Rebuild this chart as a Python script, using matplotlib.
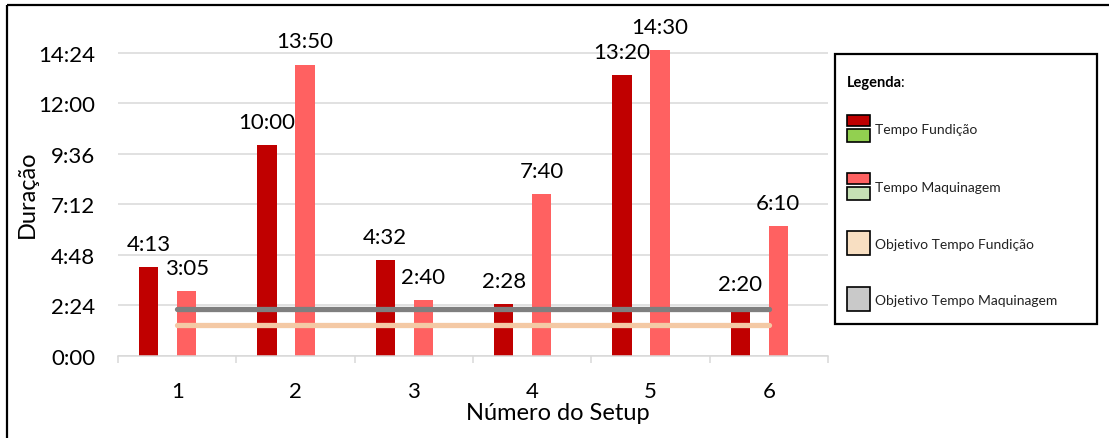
import matplotlib
matplotlib.use("Agg")
import matplotlib.pyplot as plt
from matplotlib.patches import Rectangle
import numpy as np

plt.rcParams['font.family'] = ['Lato', 'DejaVu Sans']

# durations in minutes per setup
setups = ["1", "2", "3", "4", "5", "6"]
tempo_fundicao = [253, 600, 272, 148, 800, 140]
tempo_maquinagem = [185, 830, 160, 460, 870, 370]
objetivo_fundicao = 87
objetivo_maquinagem = 134

yticks_min = [0, 144, 288, 432, 576, 720, 864]

legend_labels = ["Tempo Fundição", "Tempo Maquinagem",
                 "Objetivo Tempo Fundição", "Objetivo Tempo Maquinagem"]
legend_colors = [("#C00000", "#92D050"), ("#FF6161", "#C5E0B4"),
                 ("#F8DFC2",), ("#C9C9C9",)]


def hmm(m):
    return f"{int(m) // 60}:{int(m) % 60:02d}"


W, H = 1109, 439
fig = plt.figure(figsize=(W / 100, H / 100), dpi=100)

# main axes placed in pixel terms
left, right, bottom = 118, 828, 357
px_per_h = 21.07
ytop = 14.6
top = bottom - ytop * px_per_h
ax = fig.add_axes([left / W, (H - bottom) / H, (right - left) / W, (bottom - top) / H])

x = np.arange(len(setups))
fund_h = np.array(tempo_fundicao) / 60
maq_h = np.array(tempo_maquinagem) / 60
w = 0.165
off_f, off_m = -0.241, 0.080

ax.bar(x + off_f, fund_h, w, color="#C00000", zorder=2)
ax.bar(x + off_m, maq_h, w, color="#FF6161", zorder=2)

ax.plot([x[0], x[-1]], [objetivo_maquinagem / 60] * 2, color="#7F7F7F",
        lw=3.8, solid_capstyle="round", zorder=3)
ax.plot([x[0], x[-1]], [objetivo_fundicao / 60] * 2, color="#F4C9A5",
        lw=3.8, solid_capstyle="round", zorder=3)

for xs, vals in ((x + off_f, tempo_fundicao), (x + off_m, tempo_maquinagem)):
    for xi, v in zip(xs, vals):
        ax.annotate(hmm(v), (xi, v / 60), xytext=(0, 9.5), textcoords="offset points",
                    ha="center", va="bottom", fontsize=16, color="#000000")

ax.set_xlim(-0.5, len(setups) - 0.5)
ax.set_ylim(0, ytop)
ax.set_yticks(np.array(yticks_min) / 60)
ax.set_yticklabels([hmm(t) for t in yticks_min], fontsize=16)
ax.set_xticks(x)
ax.set_xticklabels(setups, fontsize=16)
ax.set_xticks(np.arange(-0.5, len(setups)), minor=True)
ax.tick_params(axis="x", which="major", length=0, pad=18)
ax.tick_params(axis="x", which="minor", length=5, width=1.1, color="#D9D9D9")
ax.tick_params(axis="y", length=0, pad=16.5)
ax.grid(axis="y", color="#D9D9D9", lw=1.1, zorder=0)
ax.set_axisbelow(True)
for s in ("top", "right", "left"):
    ax.spines[s].set_visible(False)
ax.spines["bottom"].set_color("#D9D9D9")
ax.spines["bottom"].set_linewidth(1.1)

ax.set_xlabel("Número do Setup", fontsize=17)
ax.xaxis.set_label_coords(0.62, -0.148)
ax.set_ylabel("Duração", fontsize=17)
ax.yaxis.set_label_coords(-0.113, 0.53)

# overlay in pixel coordinates for frame and legend box
ov = fig.add_axes([0, 0, 1, 1], zorder=-1)
ov.set_xlim(0, W)
ov.set_ylim(H, 0)
ov.axis("off")
ov.plot([7, W + 5], [6, 6], color="black", lw=1.6, solid_capstyle="butt")
ov.plot([7, 7], [6, H + 5], color="black", lw=1.6, solid_capstyle="butt")

ov.add_patch(Rectangle((835, 55), 262, 270, fill=False, ec="black", lw=1.6))
t = ov.text(847, 83, "Legenda", fontsize=10.5, fontweight="bold", va="center", ha="left")
ov.annotate(":", xy=(1, 0), xycoords=t, xytext=(-1.5, 0), textcoords="offset points",
            va="bottom", ha="left", fontsize=10.5)

ys = [129, 187, 244, 300]
for lab, cols, yc in zip(legend_labels, legend_colors, ys):
    if len(cols) == 2:
        ov.add_patch(Rectangle((847, yc - 13), 23, 11, fc=cols[0], ec="black", lw=1.2))
        ov.add_patch(Rectangle((847, yc + 1), 23, 13, fc=cols[1], ec="black", lw=1.2))
    else:
        ov.add_patch(Rectangle((847, yc - 12), 23, 24, fc=cols[0], ec="black", lw=1.2))
    ov.text(875, yc + 1, lab, fontsize=10, va="center", ha="left", color="#222222")

fig.savefig("out.png", dpi=100)
